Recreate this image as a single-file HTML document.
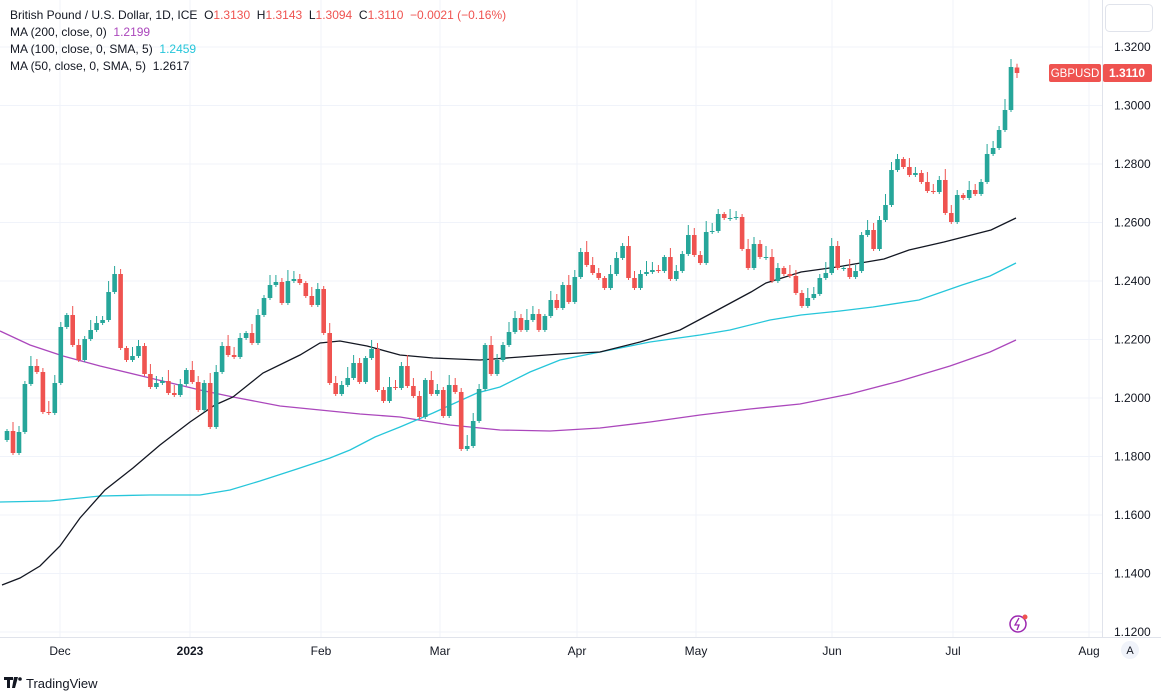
<!DOCTYPE html>
<html><head><meta charset="utf-8">
<style>
html,body{margin:0;padding:0;background:#fff;}
body{width:1161px;height:697px;overflow:hidden;position:relative;font-family:"Liberation Sans","DejaVu Sans",sans-serif;}
svg{position:absolute;left:0;top:0;}
.leg{position:absolute;left:10px;font-size:12px;color:#131722;white-space:nowrap;}
</style></head><body>
<svg id="s" width="1161" height="697" xmlns="http://www.w3.org/2000/svg"></svg>
<div class="leg" style="top:8px">British Pound / U.S. Dollar, 1D, ICE&nbsp; O<span style="color:#ef5350">1.3130</span>&nbsp; H<span style="color:#ef5350">1.3143</span>&nbsp; L<span style="color:#ef5350">1.3094</span>&nbsp; C<span style="color:#ef5350">1.3110</span>&nbsp; <span style="color:#ef5350">−0.0021 (−0.16%)</span></div>
<div class="leg" style="top:25px">MA (200, close, 0)&nbsp; <span style="color:#ab47bc">1.2199</span></div>
<div class="leg" style="top:42px">MA (100, close, 0, SMA, 5)&nbsp; <span style="color:#26c6da">1.2459</span></div>
<div class="leg" style="top:59px">MA (50, close, 0, SMA, 5)&nbsp; 1.2617</div>
<script>
var s=document.getElementById('s');var h='';
for(var k=0;k<11;k++){var y=47+k*58.5;h+='<line x1="0" y1="'+y+'" x2="1102" y2="'+y+'" stroke="#f0f3fa" stroke-width="1"/>';}
var mx=[60,190,321,440,577,696,832,953,1089];
mx.forEach(function(x){h+='<line x1="'+x+'" y1="0" x2="'+x+'" y2="637" stroke="#f0f3fa" stroke-width="1"/>';});
h+='<line x1="1102.5" y1="0" x2="1102.5" y2="637" stroke="#e0e3eb"/>';
h+='<line x1="0" y1="637.5" x2="1161" y2="637.5" stroke="#e0e3eb"/>';
function pl(pts,c){h+='<polyline fill="none" stroke="'+c+'" stroke-width="1.3" points="'+pts.map(function(p){return p.join(',')}).join(' ')+'"/>';}
pl([[0,331],[30,345],[63,356],[100,366],[150,378],[200,390],[233,397],[280,406],[320,410],[360,414],[400,417],[450,425],[500,430],[550,431],[600,428],[650,422],[700,415],[750,409],[800,404],[850,394],[900,381],[950,366],[990,352],[1016,340]],'#ab47bc');
pl([[0,502],[50,501],[100,496],[150,495],[200,495],[230,490],[260,481],[297,469],[330,458],[350,450],[375,437],[400,427],[433,413],[477,393],[500,387],[530,372],[560,360],[600,352],[650,342],[700,335],[730,330],[770,320],[801,315],[840,311],[873,307],[919,300],[962,285],[990,276],[1016,263]],'#26c6da');
pl([[2,585],[20,578],[40,566],[60,546],[80,518],[105,490],[133,468],[160,445],[190,422],[215,405],[233,397],[263,373],[300,355],[320,343],[340,341],[367,346],[400,355],[433,358],[480,360],[520,357],[560,354],[600,352],[640,342],[680,330],[712,313],[751,292],[766,283],[801,272],[837,267],[884,259],[909,250],[944,242],[991,230],[1016,218]],'#131722');
var c=[431,453,432,384,366,372,412,413,383,327,315,345,360,339,330,323,320,292,274,348,360,356,346,374,387,383,381,393,395,384,370,382,410,383,427,372,346,355,357,338,333,343,315,298,285,282,303,281,279,283,296,305,289,333,383,394,385,378,363,382,358,349,390,401,387,388,366,386,396,417,380,394,390,416,385,392,449,446,421,389,345,374,
360,345,332,
318,330,320,314,330,316,300,308,285,302,277,252,265,273,278,288,274,258,246,278,288,274,272,270,271,257,279,271,254,235,255,263,232,231,214,218,218,217,249,268,244,257,257,281,268,274,276,293,306,298,294,278,273,246,268,268,277,271,235,230,249,220,205,170,159,167,175,173,182,191,192,180,213,222,195,198,190,194,182,154,148,130,
110,67,73];
var n=c.length,sp=1010/(n-1);
for(var i=0;i<n;i++){
 var x=7+i*sp,cl=c[i],op=i?c[i-1]:440;
 if(i==n-1)op=67.5;
 if(Math.abs(op-cl)<1)op=cl+1;
 var up=cl<op,col=up?'#26a69a':'#ef5350';
 var t=Math.min(op,cl),b=Math.max(op,cl);
 var hi=t-(2+(i*7)%10),lo=b+(2+(i*11)%11);
 if(i==n-1){hi=63.7;lo=78;}
 h+='<line x1="'+x.toFixed(1)+'" y1="'+hi+'" x2="'+x.toFixed(1)+'" y2="'+lo+'" stroke="'+col+'" stroke-width="1"/>';
 h+='<rect x="'+(x-2.3).toFixed(1)+'" y="'+t+'" width="4.6" height="'+Math.max(1,b-t)+'" fill="'+col+'"/>';
}
var pr=['1.3200','1.3000','1.2800','1.2600','1.2400','1.2200','1.2000','1.1800','1.1600','1.1400','1.1200'];
for(var k=0;k<11;k++){h+='<text x="1114" y="'+(51+k*58.5)+'" font-size="12" fill="#131722" font-family="Liberation Sans,sans-serif">'+pr[k]+'</text>';}
h+='<rect x="1049" y="64" width="52" height="18" rx="2" fill="#ef5350"/><text x="1075" y="77" text-anchor="middle" font-size="11.5" fill="#fff" font-family="Liberation Sans,sans-serif">GBPUSD</text>';
h+='<rect x="1103" y="64" width="49" height="18" rx="2" fill="#ef5350"/><text x="1127" y="77" text-anchor="middle" font-size="12" font-weight="bold" fill="#fff" font-family="Liberation Sans,sans-serif">1.3110</text>';
h+='<rect x="1105.5" y="4.5" width="47" height="27" rx="4" fill="#fff" stroke="#e0e3eb"/>';
var ml=['Dec','2023','Feb','Mar','Apr','May','Jun','Jul','Aug'];
ml.forEach(function(m,j){h+='<text x="'+mx[j]+'" y="655" text-anchor="middle" font-size="12" '+(j==1?'font-weight="bold" ':'')+'fill="#131722" font-family="Liberation Sans,sans-serif">'+m+'</text>';});
h+='<circle cx="1130" cy="650" r="9" fill="#f0f3fa"/><text x="1130" y="654" text-anchor="middle" font-size="11" fill="#131722" font-family="Liberation Sans,sans-serif">A</text>';
h+='<circle cx="1018" cy="624" r="8" fill="none" stroke="#9c27b0" stroke-width="1.5"/><path d="M1019 618 L1015 625 L1019 625 L1017 630" fill="none" stroke="#9c27b0" stroke-width="1.3"/><circle cx="1025" cy="617" r="2.5" fill="#ef5350"/>';
h+='<path d="M4 677 h9 v3 h-3 v8 h-3 v-8 h-3z M14 677 h4 l-3 11 h-3z" fill="#131722"/><circle cx="20" cy="679" r="1.8" fill="#131722"/>';
h+='<text x="26" y="688" font-size="13" fill="#131722" font-family="Liberation Sans,sans-serif">TradingView</text>';
s.innerHTML=h;
</script>
</body></html>
